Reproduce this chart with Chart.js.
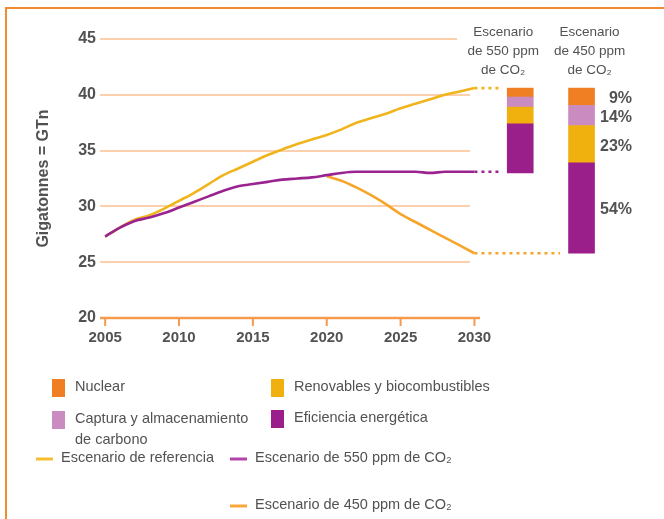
<!DOCTYPE html>
<html>
<head>
<meta charset="utf-8">
<script src="https://cdn.jsdelivr.net/npm/chart.js@4.4.1/dist/chart.umd.min.js"></script>
<style>
  html, body { margin: 0; padding: 0; background: #fff; }
  canvas { display: block; }
</style>
</head>
<body>
<canvas id="chart" width="664" height="519"></canvas>
<script>
// years and emission series (GTn)
const years = [2005, 2006, 2007, 2008, 2009, 2010, 2011, 2012, 2013, 2014, 2015, 2016, 2017,
               2018, 2019, 2020, 2021, 2022, 2023, 2024, 2025, 2026, 2027, 2028, 2029, 2030];
const referencia = [27.3, 28.1, 28.8, 29.2, 29.8, 30.5, 31.2, 32.0, 32.8, 33.4, 34.0, 34.6, 35.1,
                    35.6, 36.0, 36.4, 36.9, 37.5, 37.9, 38.3, 38.8, 39.2, 39.6, 40.0, 40.3, 40.6];
const esc550 = [27.3, 28.1, 28.7, 29.0, 29.4, 29.9, 30.4, 30.9, 31.4, 31.8, 32.0, 32.2, 32.4,
                32.5, 32.6, 32.8, 33.0, 33.1, 33.1, 33.1, 33.1, 33.1, 33.0, 33.1, 33.1, 33.1];
const esc450 = [null, null, null, null, null, null, null, null, null, null, null, null, null,
                null, null, 32.7, 32.3, 31.7, 31.0, 30.2, 29.3, 28.6, 27.9, 27.2, 26.5, 25.8];
const yearTicks = [2005, 2010, 2015, 2020, 2025, 2030];

// stacked reduction bars: [550 ppm, 450 ppm], each segment [from, to]
const barYears = [2033.1, 2037.25];
const eficiencia = [[33.0, 37.4], [25.8, 33.9]];
const renovables = [[37.4, 38.9], [33.9, 37.25]];
const captura = [[38.9, 39.8], [37.25, 39.05]];
const nuclear = [[39.8, 40.6], [39.05, 40.6]];
const shares450 = ['54%', '23%', '14%', '9%'];
const barTitles = [['Escenario', 'de 550 ppm', 'de CO₂'], ['Escenario', 'de 450 ppm', 'de CO₂']];
// where the dotted links from 2030 end (ref, 550, 450)
const linkEnds = [2031.9, 2031.9, 2035.8];

const FONT = "'Liberation Sans', Arial, sans-serif";
const TXT = '#525252';
const C_REF = '#f0b41c', C_550 = '#9b2390', C_450 = '#f6a52c';
const C_NUC = '#f07f23', C_CAP = '#c98bc0', C_REN = '#f0b10f', C_EFI = '#9b1f8a';

function pts(vals) {
    return years.map((y, i) => ({ x: y, y: vals[i] })).filter(p => p.y !== null);
}
function link(vals, end) {
    const last = vals[vals.length - 1];
    return [{ x: 2030, y: last }, { x: end, y: last }];
}
function bar(label, segs, color) {
    return {
        type: 'bar', label: label, order: 5,
        data: barYears.map((x, i) => ({ x: x, y: segs[i] })),
        backgroundColor: color, barThickness: 26, grouped: false
    };
}
const lineBase = { type: 'line', pointRadius: 0, borderWidth: 2.6, fill: false, cubicInterpolationMode: 'monotone' };
const dotBase = { type: 'line', pointRadius: 0, borderWidth: 2.6, fill: false, borderDash: [3, 4] };

const decor = {
    id: 'decor',
    beforeDatasetsDraw(chart) {
        const ctx = chart.ctx, x = chart.scales.x, y = chart.scales.y;
        ctx.save();
        // frame
        ctx.strokeStyle = '#f28c30';
        ctx.lineWidth = 2;
        ctx.beginPath();
        ctx.moveTo(664, 8); ctx.lineTo(6, 8); ctx.lineTo(6, 519);
        ctx.stroke();
        // grid
        ctx.strokeStyle = '#fcd0ac';
        ctx.lineWidth = 2;
        y.ticks.forEach(t => {
            if (t.value === y.min) return;
            const py = Math.round(y.getPixelForValue(t.value));
            ctx.beginPath();
            ctx.moveTo(100, py); ctx.lineTo(t.value === 45 ? 457 : 470, py);
            ctx.stroke();
        });
        // x axis line + ticks
        const ay = Math.round(y.getPixelForValue(y.min));
        ctx.strokeStyle = '#f59a4e';
        ctx.lineWidth = 2.5;
        ctx.beginPath();
        ctx.moveTo(100, ay); ctx.lineTo(480, ay);
        ctx.stroke();
        ctx.lineWidth = 2;
        yearTicks.forEach(v => {
            const px = x.getPixelForValue(v);
            ctx.beginPath();
            ctx.moveTo(px, ay); ctx.lineTo(px, ay + 8);
            ctx.stroke();
        });
        ctx.restore();
    },
    afterDraw(chart) {
        const ctx = chart.ctx, x = chart.scales.x, y = chart.scales.y;
        ctx.save();
        ctx.fillStyle = TXT;
        ctx.textBaseline = 'middle';
        // bar headers
        ctx.textAlign = 'center';
        ctx.font = '13.5px ' + FONT;
        const hx = [x.getPixelForValue(barYears[0]) - 17, x.getPixelForValue(barYears[1]) + 8];
        barTitles.forEach((lines, i) => {
            lines.forEach((s, j) => ctx.fillText(s, hx[i], 32 + j * 19));
        });
        // shares of the 450 bar
        ctx.textAlign = 'right';
        ctx.font = 'bold 16px ' + FONT;
        [eficiencia, renovables, captura, nuclear].forEach((seg, i) => {
            const mid = (seg[1][0] + seg[1][1]) / 2;
            ctx.fillText(shares450[i], 632, y.getPixelForValue(mid) + 2);
        });
        // legend: sources
        ctx.textAlign = 'left';
        ctx.font = '14.5px ' + FONT;
        const boxes = [
            [C_NUC, 52, 379, ['Nuclear']],
            [C_CAP, 52, 411, ['Captura y almacenamiento', 'de carbono']],
            [C_REN, 271, 379, ['Renovables y biocombustibles']],
            [C_EFI, 271, 410, ['Eficiencia energética']]
        ];
        boxes.forEach(([c, bx, by, lines]) => {
            ctx.fillStyle = c;
            ctx.fillRect(bx, by, 13, 18);
            ctx.fillStyle = TXT;
            lines.forEach((s, j) => ctx.fillText(s, bx + 23, by + 8 + j * 21));
        });
        // legend: scenarios
        const lines = [
            ['#f5bd30', 36, 458, 'Escenario de referencia'],
            ['#b044a8', 230, 458, 'Escenario de 550 ppm de CO₂'],
            ['#f8a838', 230, 505, 'Escenario de 450 ppm de CO₂']
        ];
        lines.forEach(([c, lx, ly, s]) => {
            ctx.strokeStyle = c;
            ctx.lineWidth = 3;
            ctx.beginPath();
            ctx.moveTo(lx, ly + 1); ctx.lineTo(lx + 17, ly + 1);
            ctx.stroke();
            ctx.fillText(s, lx + 25, ly);
        });
        ctx.restore();
    }
};

new Chart(document.getElementById('chart'), {
    data: {
        datasets: [
            Object.assign({ label: 'Escenario de 550 ppm de CO₂', data: pts(esc550), borderColor: C_550, order: 1 }, lineBase),
            Object.assign({ label: 'Escenario de 450 ppm de CO₂', data: pts(esc450), borderColor: C_450, order: 2 }, lineBase),
            Object.assign({ label: 'Escenario de referencia', data: pts(referencia), borderColor: C_REF, order: 3 }, lineBase),
            Object.assign({ label: 'ref link', data: link(referencia, linkEnds[0]), borderColor: C_REF, order: 4 }, dotBase),
            Object.assign({ label: '550 link', data: link(esc550, linkEnds[1]), borderColor: C_550, order: 4 }, dotBase),
            Object.assign({ label: '450 link', data: link(esc450, linkEnds[2]), borderColor: C_450, order: 4 }, dotBase),
            bar('Eficiencia energética', eficiencia, C_EFI),
            bar('Renovables y biocombustibles', renovables, C_REN),
            bar('Captura y almacenamiento de carbono', captura, C_CAP),
            bar('Nuclear', nuclear, C_NUC)
        ]
    },
    options: {
        responsive: false,
        animation: false,
        layout: { padding: { left: 30, top: 39, right: 64, bottom: 161 } },
        plugins: { legend: { display: false }, tooltip: { enabled: false } },
        scales: {
            x: {
                type: 'linear',
                offset: false,
                min: 2004.65,
                max: 2038.5,
                grid: { display: false, offset: false, tickLength: 0 },
                border: { display: false },
                afterBuildTicks: s => { s.ticks = yearTicks.map(v => ({ value: v })); },
                afterFit: s => { s.height = 40; },
                ticks: { padding: 11, color: TXT, font: { family: FONT, size: 15, weight: 'bold' }, maxRotation: 0,
                         callback: v => String(v) }
            },
            y: {
                min: 20,
                max: 45,
                grid: { display: false, tickLength: 0 },
                border: { display: false },
                afterFit: s => { s.width = 70; },
                ticks: { stepSize: 5, padding: 4, color: TXT, font: { family: FONT, size: 16, weight: 'bold' } },
                title: { display: true, text: 'Gigatonnes = GTn', color: TXT, padding: { top: 4, bottom: 0 },
                         font: { family: FONT, size: 16, weight: 'bold' } }
            }
        }
    },
    plugins: [decor]
});
</script>
</body>
</html>
